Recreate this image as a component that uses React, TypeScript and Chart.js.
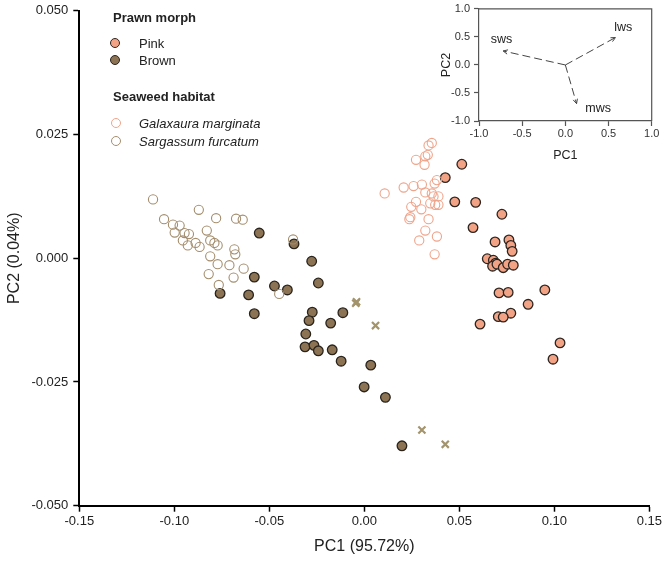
import React, { useEffect, useRef } from "react";
import { Chart, registerables } from "chart.js";

Chart.register(...registerables);

const FONT = "'Liberation Sans', Arial, Helvetica, sans-serif";

// ---- Main PCA scores (PC1, PC2) ----
const pinkPrawns: [number, number][] = [
  [0.0513, 0.019], [0.0426, 0.0163], [0.0476, 0.0114], [0.0586, 0.0113], [0.0724, 0.0089],
  [0.0572, 0.0062], [0.0688, 0.0033], [0.0761, 0.0037], [0.0771, 0.0026], [0.0778, 0.0014],
  [0.0647, -0.0001], [0.0679, -0.0004], [0.0691, -0.001], [0.0675, -0.0016], [0.0698, -0.0012],
  [0.0731, -0.0019], [0.0754, -0.0012], [0.0784, -0.0014], [0.0709, -0.007], [0.0757, -0.0069],
  [0.095, -0.0064], [0.0862, -0.0093], [0.0771, -0.0111], [0.0705, -0.0118], [0.0731, -0.0119],
  [0.0609, -0.0133], [0.103, -0.0171], [0.0993, -0.0204],
];

const brownPrawns: [number, number][] = [
  [-0.0553, 0.0051], [-0.0579, -0.0038], [-0.0759, -0.0071], [-0.0609, -0.0074], [-0.037, 0.0029],
  [-0.0277, -0.0006], [-0.0242, -0.005], [-0.0473, -0.0056], [-0.0405, -0.0064], [-0.0579, -0.0112],
  [-0.0274, -0.0109], [-0.0291, -0.0126], [-0.0113, -0.011], [-0.0177, -0.0131], [-0.0308, -0.0153],
  [-0.0312, -0.0179], [-0.0265, -0.0176], [-0.0242, -0.0187], [-0.0169, -0.0185], [-0.0122, -0.0208],
  [0.0034, -0.0216], [-0.0001, -0.026], [0.0111, -0.0281], [0.0198, -0.0379],
];

const galaxauraHabitat: [number, number][] = [
  [0.0355, 0.0233], [0.0338, 0.0228], [0.0334, 0.0209], [0.0321, 0.0206], [0.0272, 0.0199],
  [0.0317, 0.0189], [0.0382, 0.0158], [0.037, 0.0151], [0.0107, 0.0131], [0.0207, 0.0143],
  [0.0259, 0.0146], [0.0303, 0.0149], [0.0321, 0.0133], [0.0355, 0.0131], [0.0364, 0.0125],
  [0.039, 0.0125], [0.0347, 0.0111], [0.0373, 0.0108], [0.039, 0.0108], [0.0272, 0.0114],
  [0.0247, 0.0104], [0.03, 0.0099], [0.0242, 0.0083], [0.0237, 0.0079], [0.0338, 0.0079],
  [0.0321, 0.0056], [0.0382, 0.0044], [0.0289, 0.0036], [0.037, 0.0008],
];

const sargassumHabitat: [number, number][] = [
  [-0.1112, 0.0119], [-0.0871, 0.0098], [-0.078, 0.0081], [-0.0675, 0.008], [-0.064, 0.0078],
  [-0.1054, 0.0079], [-0.1007, 0.0068], [-0.0972, 0.0066], [-0.0998, 0.0052], [-0.0946, 0.0051],
  [-0.0923, 0.0049], [-0.0829, 0.0056], [-0.0955, 0.0036], [-0.0811, 0.0036], [-0.0789, 0.0031],
  [-0.0772, 0.0026], [-0.0929, 0.0026], [-0.0888, 0.0031], [-0.0867, 0.0023], [-0.0684, 0.0018],
  [-0.0679, 0.0008], [-0.0811, 0.0004], [-0.0772, -0.0012], [-0.071, -0.0014], [-0.0635, -0.0021],
  [-0.0819, -0.0032], [-0.0688, -0.0039], [-0.0766, -0.0054], [-0.0375, 0.0038], [-0.0448, -0.0072],
];

const crossMarks: [number, number][] = [
  [-0.0045, -0.0091], [-0.0041, -0.0088], [0.0059, -0.0136], [0.0303, -0.0347], [0.0426, -0.0376],
];

// ---- Inset loadings ----
const loadingLabels = ["sws", "lws", "mws"];
const loadingPC1 = [-0.72, 0.58, 0.13];
const loadingPC2 = [0.25, 0.49, -0.69];
const labelPC1 = [-0.74, 0.67, 0.38];
const labelPC2 = [0.45, 0.67, -0.78];

const toPts = (a: [number, number][]) => a.map(([x, y]) => ({ x, y }));

const insetDecor = {
  id: "insetDecor",
  afterDatasetsDraw(chart: any) {
    const { ctx, chartArea: a, scales } = chart;
    const x = scales.x;
    const y = scales.y;
    ctx.save();
    ctx.strokeStyle = "#555";
    ctx.lineWidth = 1.2;
    ctx.beginPath();
    ctx.moveTo(a.left, a.top);
    ctx.lineTo(a.right, a.top);
    ctx.lineTo(a.right, a.bottom);
    ctx.stroke();
    const ox = x.getPixelForValue(0);
    const oy = y.getPixelForValue(0);
    ctx.strokeStyle = "#444";
    ctx.lineWidth = 1;
    loadingPC1.forEach((lx, i) => {
      const px = x.getPixelForValue(lx);
      const py = y.getPixelForValue(loadingPC2[i]);
      const ang = Math.atan2(py - oy, px - ox);
      const L = 5;
      const w = 0.45;
      ctx.beginPath();
      ctx.moveTo(px - L * Math.cos(ang - w), py - L * Math.sin(ang - w));
      ctx.lineTo(px, py);
      ctx.lineTo(px - L * Math.cos(ang + w), py - L * Math.sin(ang + w));
      ctx.stroke();
    });
    ctx.fillStyle = "#222";
    ctx.font = `12.5px ${FONT}`;
    ctx.textAlign = "center";
    ctx.textBaseline = "middle";
    loadingLabels.forEach((t, i) => {
      ctx.fillText(t, x.getPixelForValue(labelPC1[i]), y.getPixelForValue(labelPC2[i]));
    });
    ctx.restore();
  },
};

const legendCircle = (left: number, top: number, fill: string, stroke: string) => (
  <div
    style={{
      position: "absolute",
      left: left - 5,
      top: top - 5,
      width: 8,
      height: 8,
      borderRadius: "50%",
      background: fill,
      border: `1.2px solid ${stroke}`,
    }}
  />
);

const legendText = (left: number, top: number, text: string, extra: any = {}) => (
  <div
    style={{
      position: "absolute",
      left,
      top,
      transform: "translateY(-50%)",
      fontFamily: FONT,
      fontSize: 13,
      lineHeight: "15px",
      color: "#222",
      whiteSpace: "nowrap",
      ...extra,
    }}
  >
    {text}
  </div>
);

export default function App() {
  const mainRef = useRef<HTMLCanvasElement>(null);
  const insetRef = useRef<HTMLCanvasElement>(null);

  useEffect(() => {
    const tickFont = { family: FONT, size: 13, lineHeight: 0.9 };
    const main = new Chart(mainRef.current as HTMLCanvasElement, {
      type: "scatter",
      data: {
        datasets: [
          {
            label: "Galaxaura marginata",
            data: toPts(galaxauraHabitat),
            pointRadius: 4.6,
            pointBackgroundColor: "rgba(0,0,0,0)",
            pointBorderColor: "#efa48a",
            pointBorderWidth: 1.1,
          },
          {
            label: "Sargassum furcatum",
            data: toPts(sargassumHabitat),
            pointRadius: 4.6,
            pointBackgroundColor: "rgba(0,0,0,0)",
            pointBorderColor: "#a48e6e",
            pointBorderWidth: 1.1,
          },
          {
            label: "Brown",
            data: toPts(brownPrawns),
            pointRadius: 4.8,
            pointBackgroundColor: "#8c7354",
            pointBorderColor: "#2a241d",
            pointBorderWidth: 1.3,
          },
          {
            label: "Pink",
            data: toPts(pinkPrawns),
            pointRadius: 4.8,
            pointBackgroundColor: "#f2a386",
            pointBorderColor: "#2e2520",
            pointBorderWidth: 1.3,
          },
          {
            label: "Unassigned",
            data: toPts(crossMarks),
            pointStyle: "crossRot",
            pointRadius: 5,
            pointBorderColor: "#a3946c",
            pointBorderWidth: 2.2,
          },
        ],
      },
      options: {
        responsive: false,
        animation: false,
        devicePixelRatio: 1,
        layout: { padding: { left: 0, right: 14.3, top: 6, bottom: 0 } },
        plugins: { legend: { display: false }, tooltip: { enabled: false } },
        scales: {
          x: {
            type: "linear",
            min: -0.15,
            max: 0.15,
            afterFit: (s: any) => {
              s.height = 58.3;
            },
            ticks: {
              stepSize: 0.05,
              callback: (v: any) => Number(v).toFixed(2),
              font: tickFont,
              color: "#222",
              padding: 4,
              maxRotation: 0,
              autoSkip: false,
            },
            grid: { drawOnChartArea: false, drawTicks: true, tickLength: 6, tickColor: "#000", tickWidth: 1.5 },
            border: { display: true, color: "#000", width: 2 },
            title: {
              display: true,
              text: "PC1 (95.72%)",
              font: { family: FONT, size: 16, lineHeight: 1.2 },
              color: "#222",
              padding: { top: 0, bottom: 7.4 },
            },
          },
          y: {
            type: "linear",
            min: -0.05,
            max: 0.05,
            afterFit: (s: any) => {
              s.width = 79.3;
            },
            ticks: {
              stepSize: 0.025,
              callback: (v: any) => Number(v).toFixed(3),
              font: tickFont,
              color: "#222",
              padding: 5,
              autoSkip: false,
            },
            grid: { drawOnChartArea: false, drawTicks: true, tickLength: 6, tickColor: "#000", tickWidth: 1.5 },
            border: { display: true, color: "#000", width: 2 },
            title: {
              display: true,
              text: "PC2 (0.04%)",
              font: { family: FONT, size: 16, lineHeight: 1.2 },
              color: "#222",
              padding: { top: 5.4, bottom: 0 },
            },
          },
        },
      },
    } as any);

    const insetTick = { family: FONT, size: 11, lineHeight: 0.9 };
    const inset = new Chart(insetRef.current as HTMLCanvasElement, {
      type: "scatter",
      data: {
        datasets: loadingLabels.map((lab, i) => ({
          label: lab,
          data: [
            { x: 0, y: 0 },
            { x: loadingPC1[i], y: loadingPC2[i] },
          ],
          showLine: true,
          borderColor: "#444",
          borderWidth: 1,
          borderDash: [8, 4],
          pointRadius: 0,
          fill: false,
        })),
      },
      options: {
        responsive: false,
        animation: false,
        devicePixelRatio: 1,
        layout: { padding: { left: 0, right: 14.3, top: 7, bottom: 0 } },
        plugins: { legend: { display: false }, tooltip: { enabled: false } },
        scales: {
          x: {
            type: "linear",
            min: -1,
            max: 1,
            afterFit: (s: any) => {
              s.height = 44;
            },
            ticks: {
              stepSize: 0.5,
              callback: (v: any) => Number(v).toFixed(1),
              font: insetTick,
              color: "#333",
              padding: 3,
              maxRotation: 0,
              autoSkip: false,
            },
            grid: { drawOnChartArea: false, drawTicks: true, tickLength: 5, tickColor: "#555", tickWidth: 1.2 },
            border: { display: true, color: "#555", width: 1.2 },
            title: {
              display: true,
              text: "PC1",
              font: { family: FONT, size: 12.5, lineHeight: 1.2 },
              color: "#222",
              padding: { top: 0, bottom: 1.5 },
            },
          },
          y: {
            type: "linear",
            min: -1,
            max: 1,
            afterFit: (s: any) => {
              s.width = 49;
            },
            ticks: {
              stepSize: 0.5,
              callback: (v: any) => Number(v).toFixed(1),
              font: insetTick,
              color: "#333",
              padding: 4,
              autoSkip: false,
            },
            grid: { drawOnChartArea: false, drawTicks: true, tickLength: 5, tickColor: "#555", tickWidth: 1.2 },
            border: { display: true, color: "#555", width: 1.2 },
            title: {
              display: true,
              text: "PC2",
              font: { family: FONT, size: 12.5, lineHeight: 1.2 },
              color: "#222",
              padding: { top: 9.5, bottom: 0 },
            },
          },
        },
      },
      plugins: [insetDecor],
    } as any);

    return () => {
      main.destroy();
      inset.destroy();
    };
  }, []);

  return (
    <div
      style={{
        position: "absolute",
        left: 0,
        top: 0,
        width: 666,
        height: 564,
        background: "#fff",
        overflow: "hidden",
      }}
    >
      <canvas ref={mainRef} width={666} height={564} style={{ position: "absolute", left: 0, top: 0 }} />
      <canvas ref={insetRef} width={236} height={165} style={{ position: "absolute", left: 430, top: 0 }} />
      {legendText(113, 17.3, "Prawn morph", { fontWeight: "bold" })}
      {legendCircle(115, 42.7, "#f2a386", "#2e2520")}
      {legendText(139, 42.7, "Pink")}
      {legendCircle(115, 60.3, "#8c7354", "#2a241d")}
      {legendText(139, 60.3, "Brown")}
      {legendText(113, 95.7, "Seaweed habitat", { fontWeight: "bold" })}
      {legendCircle(116, 123.3, "transparent", "#efa48a")}
      {legendText(139, 123.3, "Galaxaura marginata", { fontStyle: "italic" })}
      {legendCircle(116, 141, "transparent", "#a48e6e")}
      {legendText(139, 141, "Sargassum furcatum", { fontStyle: "italic" })}
    </div>
  );
}
